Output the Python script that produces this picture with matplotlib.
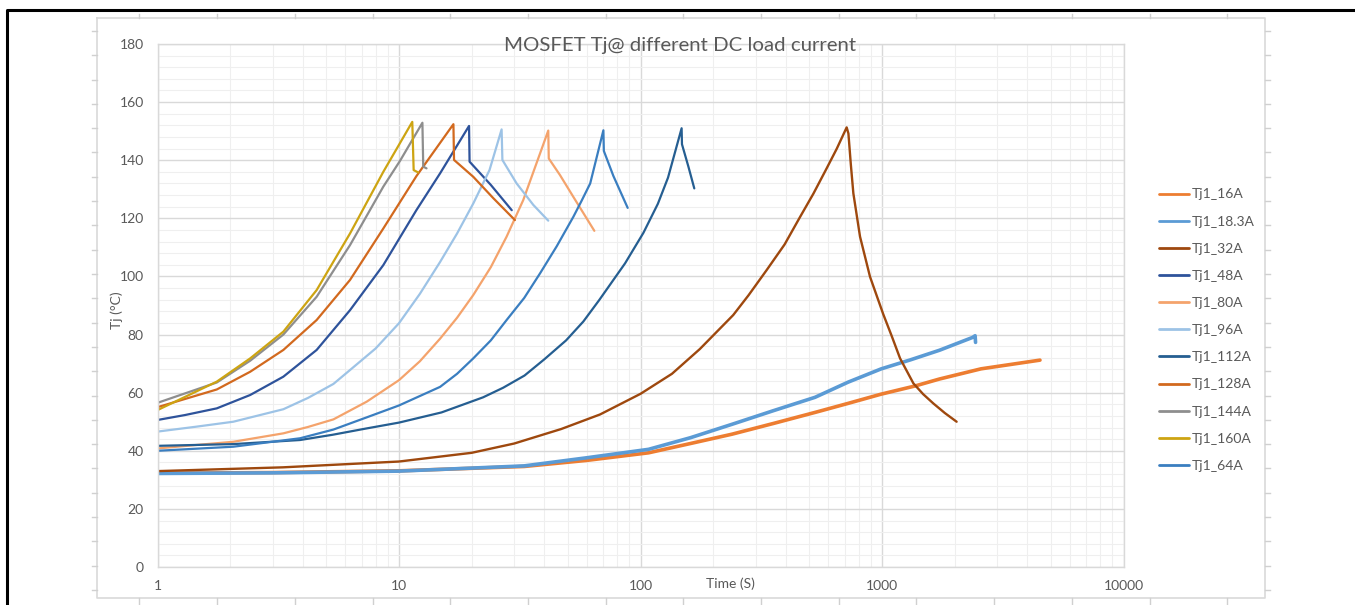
import matplotlib
matplotlib.use("Agg")
import matplotlib.pyplot as plt
from matplotlib.lines import Line2D
from matplotlib.ticker import FixedLocator, NullFormatter, MultipleLocator

plt.rcParams['font.family'] = ['Lato', 'DejaVu Sans']

# time (s) / junction temperature (degC) for each load current
t_16 = [1, 3, 10, 33, 60, 108, 161, 239, 355, 528, 723, 993, 1370, 1730, 2570, 4510]
T_16 = [32.3, 32.5, 33.1, 34.6, 36.7, 39.3, 42.5, 45.7, 49.4, 53.2, 56.3, 59.5, 62.3, 64.7, 68.2, 71.2]

t_18 = [1, 3, 10, 33, 60, 108, 161, 239, 355, 528, 723, 993, 1312, 1730, 2370, 2430, 2440]
T_18 = [32.2, 32.4, 33.0, 34.8, 37.6, 40.5, 44.5, 49.1, 53.8, 58.4, 63.6, 68.2, 71.3, 74.6, 79.0, 79.6, 77.3]

t_32 = [1, 3.3, 10, 20, 30, 47, 68, 100, 135, 176, 242, 280, 333, 395, 458, 520, 590, 650, 714,
        726, 743, 761, 811, 892, 1012, 1097, 1188, 1349, 1480, 1631, 1820, 2037]
T_32 = [33.0, 34.3, 36.3, 39.3, 42.5, 47.5, 52.5, 59.6, 66.5, 75.0, 86.7, 93.5, 102.2, 111.0, 120.5,
        128.5, 137.2, 144.0, 151.3,
        149.2, 138.5, 128.6, 113.7, 99.9, 87.0, 79.5, 71.8, 63.2, 59.5, 56.3, 53.0, 50.0]

t_48 = [1, 1.3, 1.76, 2.42, 3.32, 4.56, 6.27, 8.61, 11.8, 14.8, 19.5, 19.6, 24, 29.3]
T_48 = [50.6, 52.3, 54.6, 59.2, 65.5, 74.7, 88.4, 103.9, 122.8, 135.5, 151.8, 139.5, 131.5, 122.8]

t_80 = [1, 1.45, 2.06, 3.32, 4.2, 5.35, 7.35, 10, 12.2, 14.8, 17.4, 20.3, 24, 27.9, 32.7, 38.4, 41.5,
        41.7, 46.4, 52.7, 64.4]
T_80 = [40.8, 42.0, 43.1, 46.0, 48.2, 50.8, 56.9, 64.3, 70.8, 78.6, 85.8, 93.6, 103.2, 113.7, 126.3,
        142.4, 150.2, 140.6, 134.9, 127.4, 115.7]

t_96 = [1, 1.45, 2.06, 3.32, 4.2, 5.35, 6.27, 8, 10, 12.2, 14.8, 17.4, 20.3, 23.7, 26.6,
        26.8, 30.7, 36.0, 41.5]
T_96 = [46.6, 48.3, 50.0, 54.3, 58.2, 63.0, 67.8, 75.2, 83.9, 94.0, 105.0, 114.8, 125.1, 136.6, 150.6,
        140.1, 132.0, 124.6, 119.2]

t_112 = [1, 2.06, 3.89, 5.3, 7.35, 10, 15, 22.3, 27, 33.1, 40, 49.2, 58, 67.5, 86.3, 102.8, 118, 130,
         148, 148.5, 158, 167]
T_112 = [41.7, 42.3, 43.7, 45.5, 47.7, 49.7, 53.2, 58.4, 61.7, 65.9, 71.5, 78.0, 84.5, 91.9, 104.5,
         115.0, 125.0, 134.0, 151.0, 145.5, 137.7, 130.3]

t_128 = [1, 1.76, 2.42, 3.32, 4.56, 6.27, 8.61, 11.8, 16.8, 16.9, 20.3, 24.6, 30.2]
T_128 = [55.0, 61.1, 67.2, 74.7, 85.0, 98.8, 116.5, 134.5, 152.4, 140.1, 134.3, 126.9, 119.4]

t_144 = [1, 1.76, 2.42, 3.32, 4.56, 6.27, 8.61, 10.1, 12.5, 12.6, 13.0]
T_144 = [56.5, 63.5, 71.0, 80.0, 93.0, 110.8, 130.9, 139.8, 152.9, 137.8, 137.2]

t_160 = [1, 1.76, 2.42, 3.32, 4.56, 6.27, 8.61, 11.35, 11.5, 12.0]
T_160 = [54.0, 63.8, 71.8, 81.0, 95.3, 114.8, 136.0, 153.2, 136.6, 135.8]

t_64 = [1, 2.06, 3.89, 5.35, 7.35, 10, 14.8, 17.4, 20.3, 24, 27.9, 33, 38.4, 45, 52.7, 57, 61.9, 70.2,
        70.5, 77.2, 88.5]
T_64 = [40.0, 41.4, 44.3, 47.3, 51.5, 55.6, 62.0, 66.5, 71.8, 78.0, 85.0, 92.6, 101.1, 110.4, 120.5,
        126.0, 132.0, 150.3, 143.2, 134.6, 123.6]

labels = ['Tj1_16A', 'Tj1_18.3A', 'Tj1_32A', 'Tj1_48A', 'Tj1_80A', 'Tj1_96A',
          'Tj1_112A', 'Tj1_128A', 'Tj1_144A', 'Tj1_160A', 'Tj1_64A']
times = [t_16, t_18, t_32, t_48, t_80, t_96, t_112, t_128, t_144, t_160, t_64]
temps = [T_16, T_18, T_32, T_48, T_80, T_96, T_112, T_128, T_144, T_160, T_64]
colors = ['#ED7D31', '#5B9BD5', '#9E480E', '#2E539B', '#F4A36C', '#9DC3E6',
          '#255E91', '#D2691E', '#8E8E8E', '#CDA412', '#3A7EC0']
widths = [2.6, 2.6, 1.7, 1.6, 1.6, 1.6, 1.6, 1.6, 1.6, 1.6, 1.6]

W, H = 1355, 605
grey = '#595959'

fig = plt.figure(figsize=(W / 100, H / 100), dpi=100)
ax = fig.add_axes([157.5 / W, 38 / H, 966 / W, 523 / H])

for t, T, c, lw, lab in zip(times, temps, colors, widths, labels):
    ax.plot(t, T, color=c, lw=lw, label=lab, solid_joinstyle='round', solid_capstyle='round')

ax.set_xscale('log')
ax.set_xlim(1, 10000)
ax.set_ylim(0, 180)
ax.xaxis.set_major_locator(FixedLocator([1, 10, 100, 1000, 10000]))
ax.set_xticklabels(['1', '10', '100', '1000', '10000'])
ax.xaxis.set_minor_locator(FixedLocator([m * 10 ** d for d in range(4) for m in range(2, 10)]))
ax.xaxis.set_minor_formatter(NullFormatter())
ax.yaxis.set_major_locator(MultipleLocator(20))
ax.yaxis.set_minor_locator(MultipleLocator(4))

ax.grid(which='major', color='#D9D9D9', lw=1.0)
ax.grid(which='minor', color='#EFEFEF', lw=0.8)
ax.set_axisbelow(True)
for s in ax.spines.values():
    s.set_color('#D9D9D9')
    s.set_linewidth(1.0)
ax.tick_params(which='both', length=0, labelsize=10, labelcolor=grey)
ax.tick_params(axis='y', pad=10)
ax.tick_params(axis='x', pad=9)

fig.text(680 / W, 1 - 45 / H, 'MOSFET Tj@ different DC load current',
         ha='center', va='center', fontsize=14.7, color=grey)
fig.text(730 / W, 1 - 584 / H, 'Time (S)', ha='center', va='center', fontsize=10, color=grey)
fig.text(117 / W, 1 - 310 / H, 'Tj (°C)', ha='center', va='center', fontsize=10,
         color=grey, rotation=90)

leg = fig.legend(loc='upper left', bbox_to_anchor=(1146 / W, 1 - 176 / H), frameon=False,
                 fontsize=10, labelcolor=grey, handlelength=2.2, handletextpad=0.2,
                 labelspacing=1.09)
for h in leg.get_lines():
    h.set_linewidth(2.0)

# chart frame with its handles, and the page border
def fline(xs, ys, **kw):
    fig.add_artist(Line2D([x / W for x in xs], [1 - y / H for y in ys],
                          transform=fig.transFigure, **kw))

fline([97, 1265, 1265, 97, 97], [18, 18, 598, 598, 18], color='#D9D9D9', lw=1.2)
for k in range(15):
    x = 139.4 + 77.7 * k
    if x < 1265:
        fline([x, x], [14, 18], color='#D0D0D0', lw=1)
        fline([x, x], [598, 605], color='#D0D0D0', lw=1)
for k in range(24):
    y = 31 + 24.3 * k
    if y < 598:
        fline([92, 97], [y, y], color='#D0D0D0', lw=1)
        fline([1265, 1270], [y, y], color='#D0D0D0', lw=1)
fline([7, 7, W], [H, 10, 10], color='black', lw=2.2)

fig.savefig('out.png', dpi=100)
